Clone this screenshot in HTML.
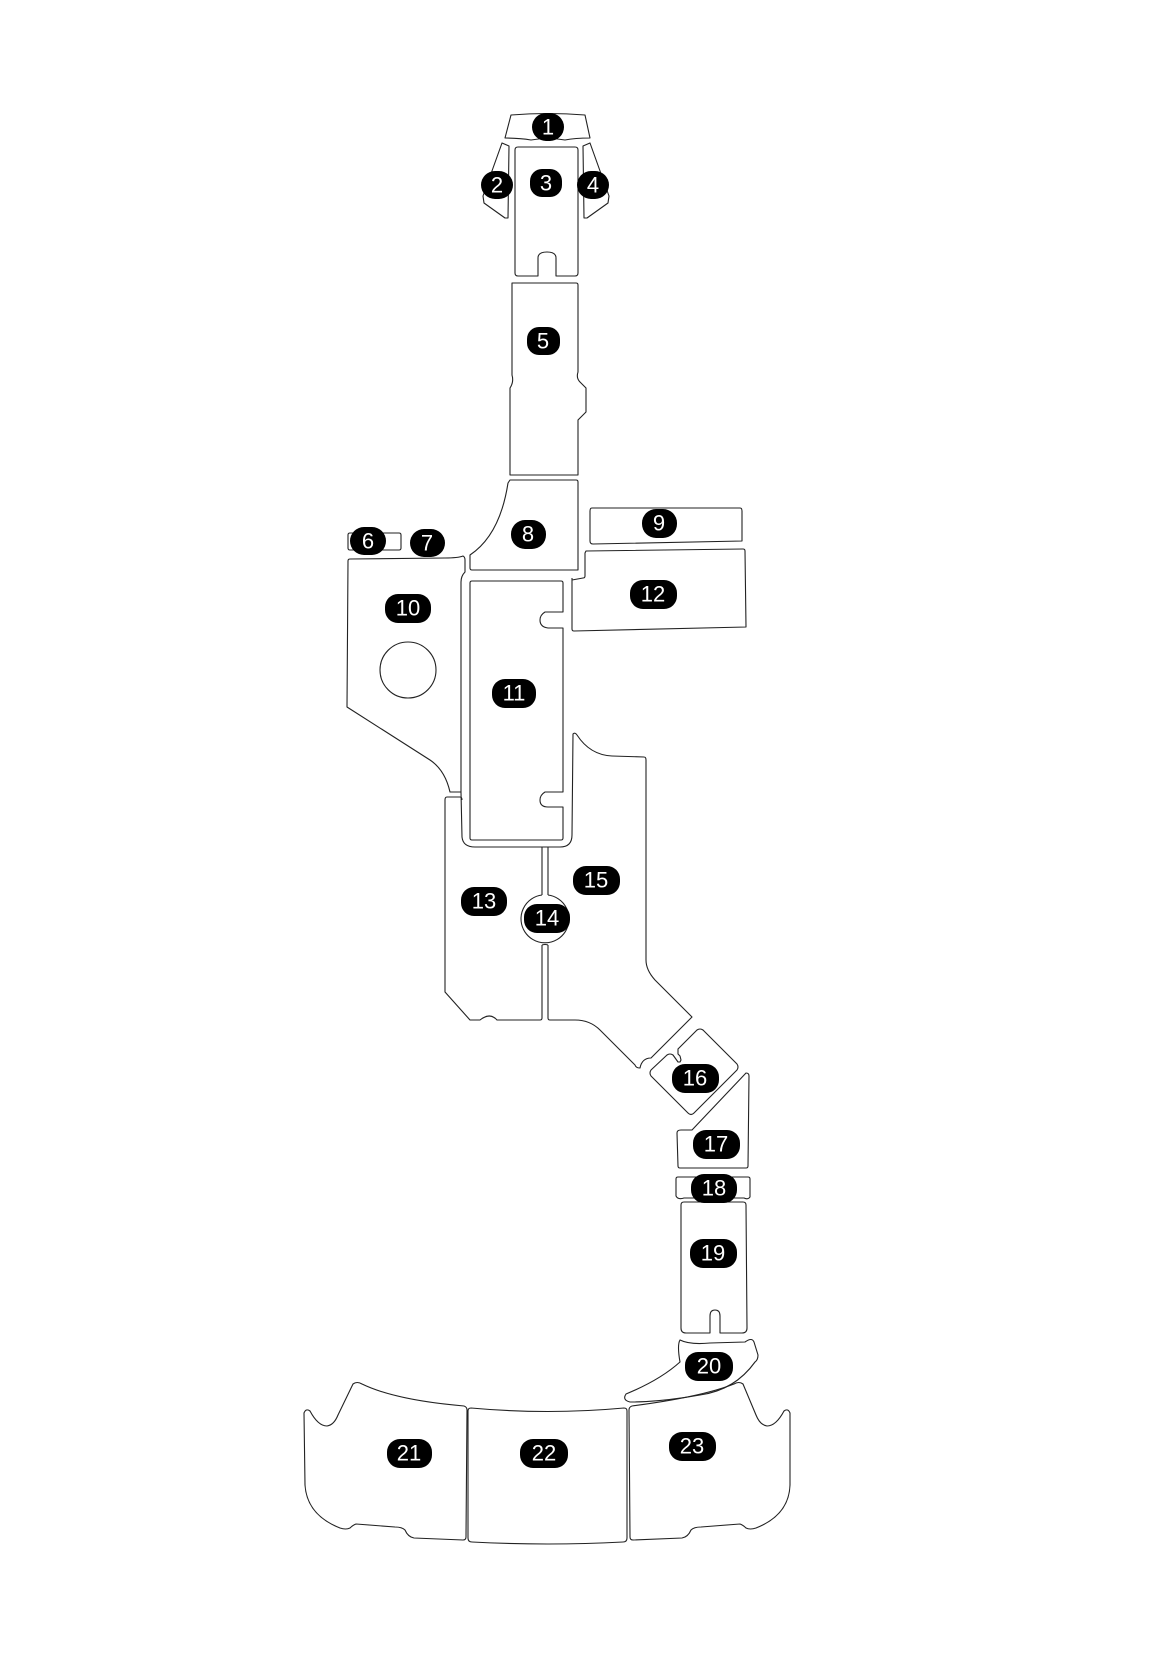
<!DOCTYPE html>
<html><head><meta charset="utf-8"><style>
html,body{margin:0;padding:0;background:#fff;}
svg{display:block}
.p{fill:none;stroke:#222;stroke-width:1.1;stroke-linejoin:round}
.l rect{fill:#000}
.l text{fill:#fff;font-family:"Liberation Sans",sans-serif;font-size:22px;text-anchor:middle;dominant-baseline:central}
</style></head><body>
<svg width="1166" height="1664" viewBox="0 0 1166 1664">
<path class="p" d="M511,115 Q548,112 585,115 L590,138 Q575,138 565,140 Q548,137 531,140 Q520,138 505,138 Z"/>
<path class="p" d="M502,143 L509,146 L508,218 L505,218 L484,203 L483,196 Z"/>
<path class="p" d="M590,143 L583,146 L584,218 L587,218 L608,203 L609,196 Z"/>
<path class="p" d="M518,147 L575,147 Q578,147 578,150 L578,273 Q578,276 575,276 L556,276 L556,258 Q556,252 547,252 Q538,252 538,258 L538,276 L518,276 Q515,276 515,273 L515,150 Q515,147 518,147 Z"/>
<path class="p" d="M512,283 L576,283 Q578,283 578,285 L578,372 Q576,378 580,382 L586,388 L586,412 L580,418 L578,420 L578,475 L510,475 L510,388 Q514,382 512,375 Z"/>
<path class="p" d="M350,533 L399,533 Q401,533 401,535 L401,548 Q401,550 399,550 L350,550 Q348,550 348,548 L348,535 Q348,533 350,533 Z"/>
<path class="p" d="M510,480 L576,480 Q578,480 578,482 L578,570 L472,570 Q470,570 470,568 L470,555 Q500,535 508,483 Z"/>
<path class="p" d="M592,508 L740,508 Q742,508 742,511 L742,541 L593,544 Q590,544 590,541 L590,511 Q590,508 592,508 Z"/>
<!-- 10 -->
<path class="p" d="M461,792 L450,792 Q445,770 430,760 L347,707 L348,561 Q348,559 350,559 L445,558 Q458,558 463,556 Q465,557 465,560 L465,572 Q461,576 461,582 L461,792"/>
<circle class="p" cx="408" cy="670" r="28"/>
<!-- 11 inner -->
<path class="p" d="M472,581 L561,581 Q563,581 563,583 L563,612 L545,612 Q540,615 540,620 Q540,627 548,628 L563,628 L563,792 L545,792 Q540,795 540,800 Q540,807 548,807 L563,807 L563,838 Q563,840 561,840 L472,840 Q470,840 470,838 L470,583 Q470,581 472,581 Z"/>
<!-- channel -->
<path class="p" d="M461,792 L462,837 Q463,847 475,847 L560,847 Q572,847 572,835"/>
<path class="p" d="M572,578 L572,580"/>
<!-- 12 -->
<path class="p" d="M586,551 L743,549 Q745,549 745,551 L746,627 L574,631 Q572,631 572,629 L572,580 L583,578 Q585,578 585,576 L585,553 Z"/>
<!-- 13 -->
<path class="p" d="M542,847 L542,895 M542,945 L542,1018 Q542,1020 540,1020 L497,1020 Q490,1012 480,1020 L470,1020 L445,992 L445,800 Q445,797 447,797 L460,797 Q462,797 462,800"/>
<!-- 14 -->
<path class="p" d="M542,895 A24,24 0 1,0 548,895 M542,945 Q545,944 548,945"/>
<!-- 15 -->
<path class="p" d="M548,895 L548,847 M572,835 L573,734 Q575,732 577,735 Q590,755 612,756 L644,757 Q646,757 646,760 L646,960 Q646,970 655,980 L692,1017 L651,1058 Q642,1058 640,1068 Q636,1068 635,1065 L600,1030 Q590,1020 575,1020 L550,1020 Q548,1020 548,1018 L548,945"/>
<!-- 16 -->
<path class="p" d="M697,1030 Q700,1028 703,1030 L737,1064 Q739,1067 737,1070 L694,1113 Q691,1116 688,1113 L651,1076 Q649,1073 651,1070 L667,1055 Q670,1053 673,1055 L678,1062 L680,1062 L681,1060 L680,1056 L678,1054 L678,1049 Z"/>
<path class="p" d="M746,1073 Q749,1073 749,1076 L748,1166 Q748,1168 746,1168 L680,1168 Q678,1168 678,1166 L677,1133 Q677,1130 681,1130 L692,1130 Z"/>
<path class="p" d="M678,1177 L748,1177 Q750,1177 750,1179 L750,1197 Q748,1200 744,1198 L684,1198 Q678,1200 676,1196 L676,1179 Q676,1177 678,1177 Z"/>
<path class="p" d="M684,1202 L743,1202 Q746,1202 746,1205 L747,1328 Q747,1333 742,1333 L720,1333 L720,1316 Q720,1310 715,1310 Q710,1310 710,1316 L710,1333 L686,1333 Q681,1333 681,1328 L681,1205 Q681,1202 684,1202 Z"/>
<path class="p" d="M680,1340 Q690,1345 710,1343 L745,1342 Q752,1337 754,1342 L758,1355 Q758,1360 755,1362 Q735,1390 700,1395 Q660,1402 630,1402 Q622,1400 626,1394 Q660,1380 680,1362 Q677,1345 680,1340 Z"/>
<path class="p" d="M353,1384 Q357,1381 362,1384 Q395,1400 464,1406 Q467,1407 467,1410 L466,1537 Q466,1540 463,1540 L414,1538 Q408,1537 405,1530 Q402,1527 395,1527 L356,1524 Q353,1525 350,1528 Q346,1530 340,1528 Q307,1515 305,1485 L304,1413 Q306,1408 310,1411 Q318,1426 327,1426 Q334,1425 338,1415 Z"/>
<path class="p" d="M471,1408 Q548,1415 624,1408 Q627,1408 627,1411 L627,1538 Q627,1542 623,1542 Q548,1546 472,1542 Q468,1542 468,1538 L468,1411 Q468,1408 471,1408 Z"/>
<path class="p" d="M743,1384 Q739,1381 734,1384 Q701,1397 632,1406 Q629,1407 629,1410 L630,1537 Q630,1540 633,1540 L682,1538 Q688,1537 691,1530 Q694,1527 701,1527 L740,1524 Q743,1525 746,1528 Q750,1530 756,1528 Q789,1515 790,1485 L790,1413 Q788,1408 784,1411 Q776,1426 767,1426 Q760,1425 756,1415 Z"/>
<g class="l">
<rect x="532" y="113" width="32" height="28" rx="14"/><text x="548" y="127">1</text>
<rect x="481" y="171" width="32" height="28" rx="14"/><text x="497" y="185">2</text>
<rect x="530" y="169" width="32" height="28" rx="12"/><text x="546" y="183">3</text>
<rect x="577" y="171" width="32" height="28" rx="14"/><text x="593" y="185">4</text>
<rect x="527" y="327" width="33" height="28" rx="12"/><text x="543" y="341">5</text>
<rect x="350" y="527" width="36" height="28" rx="14"/><text x="368" y="541">6</text>
<rect x="410" y="529" width="35" height="28" rx="14"/><text x="427" y="543">7</text>
<rect x="511" y="520" width="35" height="29" rx="14"/><text x="528" y="534">8</text>
<rect x="642" y="509" width="35" height="29" rx="14"/><text x="659" y="523">9</text>
<rect x="385" y="594" width="46" height="29" rx="13"/><text x="408" y="608">10</text>
<rect x="492" y="679" width="44" height="29" rx="13"/><text x="514" y="693">11</text>
<rect x="630" y="580" width="47" height="29" rx="13"/><text x="653" y="594">12</text>
<rect x="461" y="887" width="46" height="29" rx="13"/><text x="484" y="901">13</text>
<rect x="524" y="904" width="46" height="29" rx="13"/><text x="547" y="918">14</text>
<rect x="573" y="866" width="47" height="29" rx="13"/><text x="596" y="880">15</text>
<rect x="672" y="1064" width="47" height="29" rx="13"/><text x="695" y="1078">16</text>
<rect x="693" y="1130" width="47" height="29" rx="13"/><text x="716" y="1144">17</text>
<rect x="691" y="1174" width="46" height="29" rx="13"/><text x="714" y="1188">18</text>
<rect x="690" y="1239" width="47" height="29" rx="13"/><text x="713" y="1253">19</text>
<rect x="685" y="1352" width="48" height="29" rx="13"/><text x="709" y="1366">20</text>
<rect x="387" y="1439" width="45" height="29" rx="13"/><text x="409" y="1453">21</text>
<rect x="520" y="1439" width="48" height="29" rx="13"/><text x="544" y="1453">22</text>
<rect x="669" y="1432" width="47" height="29" rx="13"/><text x="692" y="1446">23</text>
</g>
</svg>
</body></html>
